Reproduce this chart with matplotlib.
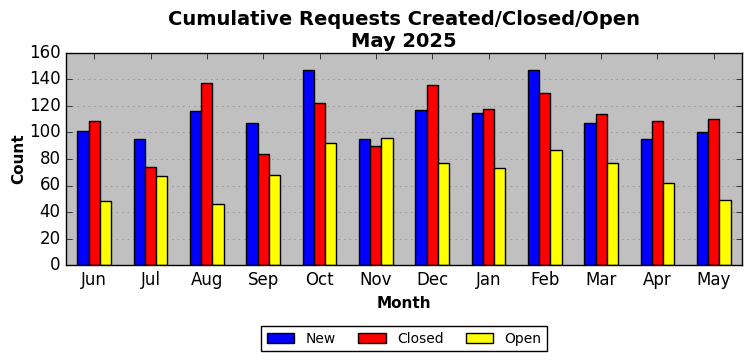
import numpy as np
import matplotlib
matplotlib.use("Agg")
import matplotlib.pyplot as plt

months = ["Jun", "Jul", "Aug", "Sep", "Oct", "Nov", "Dec", "Jan", "Feb", "Mar", "Apr", "May"]
new = [101, 95, 116, 107, 147, 95, 117, 115, 147, 107, 95, 100]
closed = [109, 74, 137, 84, 122, 90, 136, 118, 130, 114, 109, 110]
opened = [48, 67, 46, 68, 92, 96, 77, 73, 87, 77, 62, 49]

plt.style.use("classic")
fig = plt.figure(figsize=(7.52, 3.61), dpi=100, facecolor="white")
ax = fig.add_axes([66 / 752, 1 - 265 / 361, 676 / 752, 212 / 361])
ax.set_facecolor("#c0c0c0")

x = np.arange(len(months))
w = 0.2
ax.bar(x - w, new, w, color="blue", edgecolor="black", label="New", align="center")
ax.bar(x, closed, w, color="red", edgecolor="black", label="Closed", align="center")
ax.bar(x + w, opened, w, color="yellow", edgecolor="black", label="Open", align="center")

ax.set_xlim(-0.5, len(months) - 0.5)
ax.set_ylim(0, 160)
ax.set_yticks(range(0, 161, 20))
ax.set_xticks(x)
ax.set_xticklabels(months)
ax.yaxis.grid(True, linestyle=":", color="gray")
ax.xaxis.grid(False)
ax.set_axisbelow(True)
ax.tick_params(labelsize=12)

ax.set_title("Cumulative Requests Created/Closed/Open\nMay 2025", fontsize=14, fontweight="bold", y=0.995)
ax.set_xlabel("Month", fontsize=11, fontweight="bold")
ax.set_ylabel("Count", fontsize=11, fontweight="bold", labelpad=2)

ax.legend(loc="upper center", bbox_to_anchor=(0.5, -0.255), ncol=3, fontsize=10,
          fancybox=False, frameon=True, columnspacing=1.6)

fig.savefig("out.png", dpi=100, facecolor="white")
